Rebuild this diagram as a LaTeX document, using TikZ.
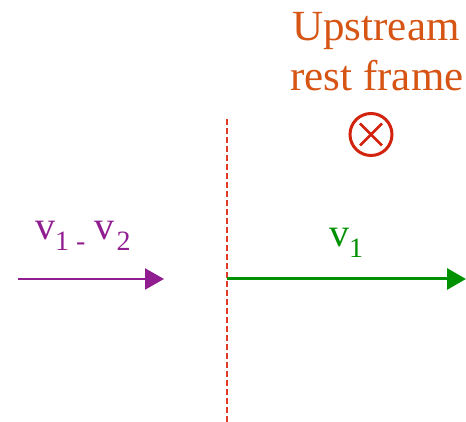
\documentclass[tikz,border=0pt]{standalone}
\usepackage{fontspec}
\setmainfont{Liberation Serif}
\newfontfamily\timesfont{Liberation Serif}
\usepackage{xcolor}
\usetikzlibrary{arrows.meta,positioning,calc}

\definecolor{frameorange}{RGB}{214,84,20}
\definecolor{crossred}{RGB}{210,35,15}
\definecolor{shockred}{RGB}{222,60,40}
\definecolor{relpurple}{RGB}{145,30,145}
\definecolor{flowgreen}{RGB}{0,145,0}

\newcommand{\lowsub}[1]{\raisebox{-11pt}{\fontsize{28}{28}\selectfont #1}}

\begin{document}
\begin{tikzpicture}[x=1pt,y=1pt, every node/.style={inner sep=0pt},
  framelabel/.style={text=frameorange,font=\timesfont\fontsize{43}{52}\selectfont,anchor=base},
  vlabel/.style={font=\timesfont\fontsize{40}{48}\selectfont,anchor=base west},
  bigtip/.style={-{Triangle[length=19pt,width=21pt]}}]
\useasboundingbox (0,0) rectangle (466,422);

% Frame label
\node[framelabel] (upstream) at (376,381.5) {Upstream};
\node[framelabel] (restframe) at (377,331) {rest frame};

% Into the page
\node[circle,draw=crossred,line width=3pt,minimum size=42pt] (otimes) at (371,287.5) {};
\draw[crossred,line width=2.6pt] ([shift={(-11,-11)}]otimes.center) -- ([shift={(11,11)}]otimes.center);
\draw[crossred,line width=2.6pt] ([shift={(-11,11)}]otimes.center) -- ([shift={(11,-11)}]otimes.center);

% Shock front
\coordinate (shocktop) at (227,303);
\coordinate (shockbot) at (227,0);
\draw[shockred,line width=2pt,dash pattern=on 6pt off 3pt] (shocktop) -- (shockbot);

% Relative velocity
\coordinate (relstart) at (18,143);
\coordinate (relend) at (164,143);
\draw[relpurple,line width=2.2pt,bigtip] (relstart) -- (relend);
\node[vlabel,text=relpurple] (rellabel) at (35,182) {v\lowsub{1 -\kern9pt}v\kern2pt\lowsub{2}};

% Upstream flow
\coordinate (flowstart) at (227,143);
\coordinate (flowend) at (466,143);
\draw[flowgreen,line width=3pt,bigtip] (flowstart) -- (flowend);
\node[vlabel,text=flowgreen] (flowlabel) at (329,175) {v\lowsub{1}};

\end{tikzpicture}
\end{document}
